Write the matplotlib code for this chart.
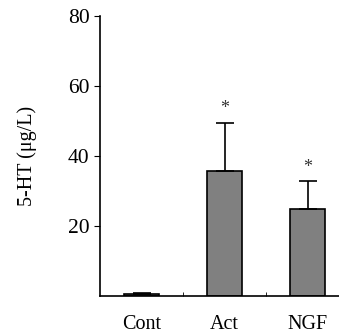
import matplotlib
matplotlib.use("Agg")
import matplotlib.pyplot as plt

# data
groups = ["Cont", "Act", "NGF"]
means = [0.5, 35.8, 24.9]
errors = [0.3, 13.7, 7.9]
significant = [False, True, True]

plt.rcParams['font.family'] = ['Liberation Serif', 'DejaVu Serif']

fig = plt.figure(figsize=(3.39, 3.35), dpi=100)
ax = fig.add_axes([0.295, 0.1164, 0.7345, 0.8358])

x = list(range(len(groups)))
ax.bar(x, means, width=0.41, color="#808080", edgecolor="black", linewidth=1.2,
       yerr=[[0] * len(errors), errors], capsize=6.5,
       error_kw=dict(elinewidth=1.2, capthick=1.2, ecolor="black"))

# asterisks above significant bars
for xi, m, e, s in zip(x, means, errors, significant):
    if s:
        ax.text(xi, m + e + 4, "*", ha="center", va="center", fontsize=13,
                color="#333333")

ax.set_xlim(-0.5, 2.5)
ax.set_ylim(0, 80)
ax.set_yticks([20, 40, 60, 80])
ax.set_xticks(x)
ax.set_xticklabels(groups)
ax.set_xticks([0.5, 1.5], minor=True)
ax.tick_params(axis="x", which="major", length=0, pad=14, labelsize=14.5)
ax.tick_params(axis="x", which="minor", direction="in", length=3)
ax.tick_params(axis="y", direction="out", length=4, labelsize=15.5)
ax.set_ylabel("5-HT (μg/L)", fontsize=14.5, labelpad=22)

ax.spines["top"].set_visible(False)
ax.spines["right"].set_visible(False)
ax.spines["left"].set_linewidth(1.2)
ax.spines["bottom"].set_linewidth(1.2)

plt.savefig("out.png", dpi=100)
plt.close()
